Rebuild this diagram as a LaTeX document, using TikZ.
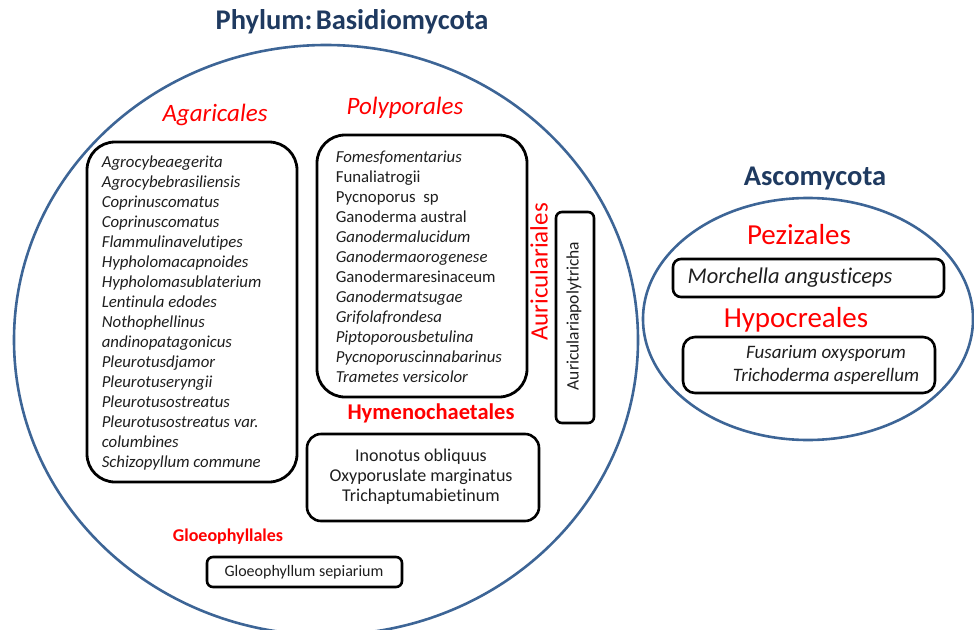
\documentclass[tikz,border=0pt]{standalone}
\usepackage{fontspec}
\setmainfont[Ligatures=NoCommon]{Carlito}
\definecolor{ellblue}{HTML}{3D6596}
\definecolor{titleblue}{HTML}{1F3A60}
\definecolor{ordred}{HTML}{FF0000}
\definecolor{txt}{HTML}{1E1E1E}
\tikzset{
  phylumell/.style={draw=ellblue, line width=2.6pt},
  bigbox/.style={draw=black, line width=2.8pt, rounded corners=28pt, inner sep=0pt},
  midbox/.style={draw=black, line width=2.6pt, rounded corners=14pt, inner sep=0pt},
  smallbox/.style={draw=black, line width=2.6pt, rounded corners=6pt, inner sep=0pt},
  phylumtitle/.style={text=titleblue, font=\bfseries\fontsize{28.5}{30}\selectfont, inner sep=0pt},
  ordlabel/.style={text=ordred, inner sep=0pt},
  listtext/.style={text=txt, align=left, inner sep=0pt, font=\fontsize{16.8}{20}\selectfont},
  ctext/.style={text=txt, align=center, inner sep=0pt},
}
\begin{document}
\begin{tikzpicture}[x=1pt, y=-1pt]
\useasboundingbox (0,0) rectangle (974,629);
% Basidiomycota
\node[phylumtitle] (basidiotitle) at (352,22) {Phylum:\hspace{0.12em}Basidiomycota};
\draw[phylumell] (326,340) ellipse [x radius=312, y radius=295];
\coordinate (basidio) at (326,340);

\node[ordlabel, font=\itshape\fontsize{25}{28}\selectfont] (agaricales) at (215,115) {Agaricales};
\node[ordlabel, font=\itshape\fontsize{25}{28}\selectfont] (polyporales) at (405,108) {Polyporales};

\node[bigbox, minimum width=210pt, minimum height=340pt] (agbox) at (192,312) {};
\node[listtext, font=\itshape\fontsize{16.8}{20}\selectfont, anchor=west] (agtext) at ([xshift=16pt,yshift=-1pt]agbox.west) {%
Agrocybeaegerita\\
Agrocybebrasiliensis\\
Coprinuscomatus\\
Coprinuscomatus\\
Flammulinavelutipes\\
Hypholomacapnoides\\
Hypholomasublaterium\\
Lentinula edodes\\
Nothophellinus\\
andinopatagonicus\\
Pleurotusdjamor\\
Pleurotuseryngii\\
Pleurotusostreatus\\
Pleurotusostreatus var.\\
columbines\\
Schizopyllum commune};

\node[bigbox, minimum width=210pt, minimum height=262pt] (polybox) at (422,266) {};
\node[listtext, anchor=west] (polytext) at ([xshift=20pt,yshift=-1pt]polybox.west) {%
\textit{Fomesfomentarius}\\
Funaliatrogii\\
Pycnoporus\ \ sp\\
Ganoderma austral\\
\textit{Ganodermalucidum}\\
\textit{Ganodermaorogenese}\\
Ganodermaresinaceum\\
\textit{Ganodermatsugae}\\
\textit{Grifolafrondesa}\\
\textit{Piptoporousbetulina}\\
\textit{Pycnoporuscinnabarinus}\\
\textit{Trametes versicolor}};

\node[ordlabel, font=\fontsize{25}{28}\selectfont, rotate=90] (auriculariales) at (539,272) {Auriculariales};
\node[smallbox, minimum width=38pt, minimum height=211pt] (aurbox) at (575,317.5) {};
\node[ctext, font=\fontsize{17.5}{20}\selectfont, rotate=90] (aurtext) at (574,316) {Auriculariapolytricha};

\node[ordlabel, font=\bfseries\fontsize{22.5}{25}\selectfont] (hymeno) at (431,413) {Hymenochaetales};
\node[midbox, minimum width=232pt, minimum height=87pt] (hymbox) at (423,477.5) {};
\node[ctext, font=\fontsize{18}{20}\selectfont] (hymtext) at (421,477) {Inonotus obliquus\\Oxyporuslate marginatus\\Trichaptumabietinum};

\node[ordlabel, font=\bfseries\fontsize{18}{20}\selectfont] (gloeo) at (228,537) {Gloeophyllales};
\node[smallbox, minimum width=195pt, minimum height=30pt] (gloebox) at (304.5,572) {};
\node[ctext, font=\fontsize{16}{18}\selectfont] (gloetext) at (304,572) {Gloeophyllum sepiarium};

% Ascomycota
\node[phylumtitle] (ascotitle) at (815,178) {Ascomycota};
\draw[phylumell] (808,319) ellipse [x radius=165, y radius=121];
\node[ordlabel, font=\fontsize{29}{32}\selectfont] (pezizales) at (799,235) {Pezizales};
\node[smallbox, rounded corners=8pt, minimum width=271pt, minimum height=38pt] (morbox) at (808.5,278) {};
\node[ctext, font=\itshape\fontsize{22.5}{25}\selectfont] (mortext) at (790,278) {Morchella angusticeps};
\node[ordlabel, font=\fontsize{29}{32}\selectfont] (hypocreales) at (796,320) {Hypocreales};
\node[smallbox, rounded corners=12pt, minimum width=252pt, minimum height=56pt] (fusbox) at (809,365) {};
\node[ctext, font=\itshape\fontsize{19}{23}\selectfont] (fustext) at (826,365) {Fusarium oxysporum\\Trichoderma asperellum};
\end{tikzpicture}
\end{document}
